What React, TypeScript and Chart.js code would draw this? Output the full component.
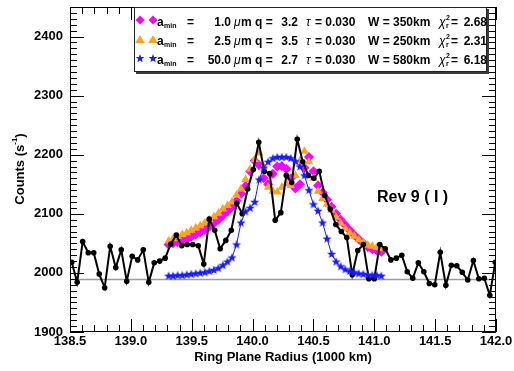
import React, { useEffect, useRef } from "react";
import { Chart, registerables } from "chart.js";

Chart.register(...registerables);

const FONT = '"Liberation Sans", Arial, Helvetica, sans-serif';

// Observed data (Ring plane radius in 1000 km, counts per second)
const radiusData = [
  138.514, 138.559, 138.604, 138.650, 138.695, 138.740, 138.785, 138.830, 138.876, 138.921,
  138.966, 139.011, 139.056, 139.102, 139.147, 139.192, 139.237, 139.282, 139.328, 139.373,
  139.418, 139.463, 139.508, 139.554, 139.599, 139.644, 139.689, 139.734, 139.780, 139.825,
  139.870, 139.915, 139.960, 140.006, 140.051, 140.096, 140.141, 140.186, 140.232, 140.277,
  140.322, 140.367, 140.412, 140.458, 140.503, 140.548, 140.593, 140.638, 140.684, 140.729,
  140.774, 140.819, 140.864, 140.910, 140.955, 141.000, 141.045, 141.090, 141.136, 141.181,
  141.226, 141.271, 141.316, 141.362, 141.407, 141.452, 141.497, 141.542, 141.588, 141.633,
  141.678, 141.723, 141.768, 141.814, 141.859, 141.904, 141.949, 141.994,
];
const countsData = [
  2018, 1984, 2053, 2034, 2034, 1998, 1975, 2045, 2009, 2039,
  1986, 2028, 2022, 2039, 1984, 2017, 2020, 2025, 2049, 2064,
  2046, 2048, 2048, 2046, 2015, 2091, 2072, 2041, 2055, 2072,
  2118, 2100, 2142, 2175, 2221, 2172, 2168, 2089, 2102, 2165,
  2153, 2226, 2188, 2165, 2160, 2172, 2131, 2108, 2082, 2070,
  2060, 1997, 2038, 2048, 1990, 1990, 2048, 2041, 2022, 2025,
  2030, 2002, 1991, 2017, 2002, 1982, 1980, 2035, 1979, 2013,
  2012, 2001, 1988, 2021, 1990, 1991, 1962, 2018,
];

// Model curves
const modelRadius = [
  139.310, 139.347, 139.384, 139.422, 139.459, 139.496, 139.533, 139.570, 139.608, 139.645,
  139.682, 139.719, 139.756, 139.794, 139.831, 139.868, 139.905, 139.942, 139.980, 140.017,
  140.054, 140.091, 140.128, 140.166, 140.203, 140.240, 140.277, 140.314, 140.352, 140.389,
  140.426, 140.463, 140.500, 140.538, 140.575, 140.612, 140.649, 140.686, 140.724, 140.761,
  140.798, 140.835, 140.872, 140.910, 140.947, 140.984, 141.021, 141.058,
];
const modelA1 = [
  2048, 2050, 2052, 2054, 2057, 2061, 2065, 2069, 2073, 2078,
  2084, 2090, 2097, 2104, 2112, 2122, 2134, 2147, 2172, 2190,
  2182, 2160, 2150, 2168, 2180, 2181, 2176, 2160, 2143, 2150,
  2178, 2196, 2172, 2148, 2136, 2124, 2112, 2100, 2090, 2081,
  2072, 2064, 2057, 2050, 2044, 2040, 2038, 2036,
];
const modelA25 = [
  2054, 2058, 2062, 2065, 2068, 2072, 2076, 2080, 2085, 2090,
  2095, 2101, 2108, 2114, 2120, 2132, 2142, 2158, 2176, 2192,
  2203, 2180, 2145, 2138, 2137, 2145, 2151, 2148, 2165, 2190,
  2206, 2188, 2160, 2138, 2126, 2116, 2106, 2094, 2084, 2075,
  2068, 2062, 2056, 2051, 2047, 2045, 2043, 2041,
];
const modelA50 = [
  1995, 1995, 1996, 1996, 1997, 1998, 1999, 2000, 2001, 2003,
  2005, 2008, 2013, 2019, 2026, 2048, 2085, 2104, 2110, 2120,
  2158, 2178, 2188, 2194, 2196, 2196, 2196, 2194, 2189, 2180,
  2165, 2140, 2116, 2105, 2085, 2058, 2032, 2019, 2011, 2006,
  2003, 2001, 1999, 1998, 1997, 1996, 1996, 1995,
];

const baselineCounts = 1989;

const xTickValues = [138.5, 139.0, 139.5, 140.0, 140.5, 141.0, 141.5, 142.0];
const yTickValues = [1900, 2000, 2100, 2200, 2300, 2400];

const legendAmin = ["1.0", "2.5", "50.0"];
const legendQ = ["3.2", "3.5", "2.7"];
const legendTau = ["0.030", "0.030", "0.030"];
const legendW = ["350km", "250km", "580km"];
const legendChi = ["2.68", "2.31", "6.18"];

const MAGENTA = "#ff00ff";
const ORANGE = "#ffa31a";
const BLUE = "#1a1aff";

function starPath(ctx: CanvasRenderingContext2D, cx: number, cy: number, ro: number, ri: number) {
  ctx.beginPath();
  for (let k = 0; k < 10; k++) {
    const r = k % 2 === 0 ? ro : ri;
    const a = -Math.PI / 2 + (k * Math.PI) / 5;
    const px = cx + r * Math.cos(a);
    const py = cy + r * Math.sin(a);
    if (k === 0) ctx.moveTo(px, py);
    else ctx.lineTo(px, py);
  }
  ctx.closePath();
}

function makeStar(): HTMLCanvasElement {
  const c = document.createElement("canvas");
  c.width = 10;
  c.height = 10;
  const g = c.getContext("2d")!;
  g.fillStyle = BLUE;
  starPath(g, 5, 5.3, 4.7, 2.0);
  g.fill();
  return c;
}

function drawDiamond(ctx: CanvasRenderingContext2D, x: number, y: number, r: number) {
  ctx.beginPath();
  ctx.moveTo(x, y - r);
  ctx.lineTo(x + r, y);
  ctx.lineTo(x, y + r);
  ctx.lineTo(x - r, y);
  ctx.closePath();
  ctx.fillStyle = MAGENTA;
  ctx.fill();
}
function drawTriangle(ctx: CanvasRenderingContext2D, x: number, y: number, r: number) {
  ctx.beginPath();
  ctx.moveTo(x, y - r);
  ctx.lineTo(x + r * 0.95, y + r * 0.6);
  ctx.lineTo(x - r * 0.95, y + r * 0.6);
  ctx.closePath();
  ctx.fillStyle = ORANGE;
  ctx.fill();
}
function drawStarMarker(ctx: CanvasRenderingContext2D, x: number, y: number, r: number) {
  starPath(ctx, x, y, r, r * 0.42);
  ctx.fillStyle = BLUE;
  ctx.fill();
}

const overlayPlugin = {
  id: "overlay",
  beforeDatasetsDraw(chart: any) {
    const { ctx, chartArea: a, scales } = chart;
    const yb = scales.y.getPixelForValue(baselineCounts);
    ctx.save();
    ctx.strokeStyle = "#9c9c9c";
    ctx.lineWidth = 1.5;
    ctx.beginPath();
    ctx.moveTo(a.left, yb);
    ctx.lineTo(a.right, yb);
    ctx.stroke();
    ctx.restore();
  },
  afterDraw(chart: any) {
    const { ctx, chartArea: a, scales } = chart;
    const xs = scales.x;
    const ys = scales.y;
    ctx.save();
    // frame
    ctx.strokeStyle = "#000";
    ctx.lineWidth = 1;
    ctx.strokeRect(a.left + 0.5, a.top + 0.5, a.right - a.left - 1, a.bottom - a.top - 1);
    // inward ticks
    ctx.beginPath();
    for (let k = 0; k <= 35; k++) {
      const v = 138.5 + k * 0.1;
      const px = Math.round(xs.getPixelForValue(v)) + 0.5;
      const len = k % 5 === 0 ? 13 : 7;
      ctx.moveTo(px, a.bottom);
      ctx.lineTo(px, a.bottom - len);
      ctx.moveTo(px, a.top);
      ctx.lineTo(px, a.top + len);
    }
    for (let k = 0; k <= 55; k++) {
      const v = 1900 + k * 10;
      const py = Math.round(ys.getPixelForValue(v)) + 0.5;
      const len = k % 10 === 0 ? 14 : 7;
      ctx.moveTo(a.left, py);
      ctx.lineTo(a.left + len, py);
      ctx.moveTo(a.right, py);
      ctx.lineTo(a.right - len, py);
    }
    ctx.stroke();

    // annotation
    ctx.fillStyle = "#000";
    ctx.font = `bold 16px ${FONT}`;
    ctx.textBaseline = "middle";
    ctx.textAlign = "left";
    ctx.fillText("Rev 9 ( I )", 377, 198);

    // x title
    ctx.font = `bold 13px ${FONT}`;
    ctx.textAlign = "center";
    ctx.fillText("Ring Plane Radius (1000 km)", (a.left + a.right) / 2, 357);

    // y title (rotated)
    ctx.save();
    ctx.translate(20, 169);
    ctx.rotate(-Math.PI / 2);
    ctx.textAlign = "left";
    const f1 = `bold 13px ${FONT}`;
    const f2 = `bold 8px ${FONT}`;
    ctx.font = f1;
    const w1 = ctx.measureText("Counts (s").width;
    const w3 = ctx.measureText(")").width;
    ctx.font = f2;
    const w2 = ctx.measureText("-1").width;
    let sx = -(w1 + w2 + w3) / 2;
    ctx.font = f1;
    ctx.fillText("Counts (s", sx, 0);
    sx += w1;
    ctx.font = f2;
    ctx.fillText("-1", sx, -5);
    sx += w2;
    ctx.font = f1;
    ctx.fillText(")", sx, 0);
    ctx.restore();

    // legend box
    const L = 134, T = 7, R = 487, B = 72;
    ctx.fillStyle = "#3a3a3a";
    ctx.fillRect(L + 2, T + 2, R - L, B - T);
    ctx.fillStyle = "#fff";
    ctx.fillRect(L, T, R - L, B - T);
    ctx.strokeStyle = "#222";
    ctx.lineWidth = 1;
    ctx.strokeRect(L + 0.5, T + 0.5, R - L - 1, B - T - 1);

    const rowY = [21, 40, 59];
    const bold = `bold 12px ${FONT}`;
    const ital = `italic 12px ${FONT}`;
    const small = `bold 7px ${FONT}`;
    ctx.textBaseline = "alphabetic";
    for (let r = 0; r < 3; r++) {
      const y = rowY[r];
      const bl = y + 4.5;
      for (const mx of [140, 153]) {
        if (r === 0) drawDiamond(ctx, mx, y - 1, 4.5);
        else if (r === 1) drawTriangle(ctx, mx, y, 5);
        else drawStarMarker(ctx, mx, y - 0.5, 4.5);
      }
      ctx.fillStyle = "#000";
      ctx.textAlign = "left";
      ctx.font = bold;
      ctx.fillText("a", 157, bl);
      ctx.font = small;
      ctx.fillText("min", 164, bl + 2);
      ctx.font = bold;
      ctx.fillText("=", 187, bl);
      ctx.textAlign = "right";
      ctx.fillText(legendAmin[r], 231, bl);
      ctx.textAlign = "left";
      ctx.font = ital;
      ctx.fillText("\u03bc", 234, bl);
      ctx.font = bold;
      ctx.fillText("m q =", 241, bl);
      ctx.textAlign = "right";
      ctx.fillText(legendQ[r], 298, bl);
      ctx.textAlign = "left";
      ctx.font = ital;
      ctx.fillText("\u03c4", 306, bl);
      ctx.font = bold;
      ctx.fillText("= " + legendTau[r], 315, bl);
      ctx.fillText("W = " + legendW[r], 368, bl);
      ctx.font = ital;
      ctx.fillText("\u03c7", 439, bl);
      ctx.font = small;
      ctx.fillText("2", 446, bl - 6);
      ctx.fillText("r", 446, bl + 2);
      ctx.font = bold;
      ctx.fillText("=", 451, bl);
      ctx.textAlign = "right";
      ctx.fillText(legendChi[r], 487, bl);
    }
    ctx.restore();
  },
};

export default function App() {
  const canvasRef = useRef<HTMLCanvasElement | null>(null);

  useEffect(() => {
    const canvas = canvasRef.current;
    if (!canvas) return;
    const star = makeStar();
    const toPts = (xs: number[], ys: number[]) => xs.map((x, i) => ({ x, y: ys[i] }));
    const tickFont = { family: FONT, size: 13, weight: "bold" as const };

    const chart = new Chart(canvas, {
      type: "scatter",
      data: {
        datasets: [
          {
            label: "a_min = 50.0",
            data: toPts(modelRadius, modelA50),
            showLine: true,
            borderColor: BLUE,
            borderWidth: 1,
            pointStyle: star as any,
            pointRadius: 4,
            order: 0,
          },
          {
            label: "data",
            data: toPts(radiusData, countsData),
            showLine: true,
            borderColor: "#000",
            borderWidth: 2,
            pointBackgroundColor: "#000",
            pointBorderColor: "#000",
            pointBorderWidth: 0,
            pointRadius: 2.8,
            order: 1,
          },
          {
            label: "a_min = 2.5",
            data: toPts(modelRadius, modelA25),
            showLine: false,
            borderColor: ORANGE,
            backgroundColor: ORANGE,
            pointStyle: "triangle",
            pointBorderWidth: 0,
            pointRadius: 5,
            order: 2,
          },
          {
            label: "a_min = 1.0",
            data: toPts(modelRadius, modelA1),
            showLine: false,
            borderColor: MAGENTA,
            backgroundColor: MAGENTA,
            pointStyle: "rectRot",
            pointBorderWidth: 0,
            pointRadius: 5,
            order: 3,
          },
        ],
      },
      options: {
        animation: false,
        responsive: false,
        devicePixelRatio: 1,
        layout: { padding: { top: 7, right: 18, left: 0, bottom: 0 } },
        plugins: { legend: { display: false }, tooltip: { enabled: false } },
        events: [],
        scales: {
          x: {
            type: "linear",
            min: 138.5,
            max: 142.0,
            afterFit: (s: any) => {
              s.height = 39;
              s.paddingLeft = 0;
              s.paddingRight = 0;
            },
            afterBuildTicks: (s: any) => {
              s.ticks = xTickValues.map((v) => ({ value: v }));
            },
            ticks: {
              font: tickFont,
              color: "#000",
              padding: 2,
              maxRotation: 0,
              autoSkip: false,
              callback: (v: any) => Number(v).toFixed(1),
            },
            grid: { display: false, drawTicks: false },
            border: { display: false },
          },
          y: {
            type: "linear",
            min: 1900,
            max: 2450,
            afterFit: (s: any) => {
              s.width = 70;
              s.paddingTop = 0;
              s.paddingBottom = 0;
            },
            afterBuildTicks: (s: any) => {
              s.ticks = yTickValues.map((v) => ({ value: v }));
            },
            ticks: {
              font: tickFont,
              color: "#000",
              padding: 7,
              autoSkip: false,
              callback: (v: any) => String(v),
            },
            grid: { display: false, drawTicks: false },
            border: { display: false },
          },
        },
      },
      plugins: [overlayPlugin],
    });
    return () => chart.destroy();
  }, []);

  return (
    <div style={{ position: "fixed", left: 0, top: 0, width: 514, height: 371, background: "#fff" }}>
      <canvas ref={canvasRef} width={514} height={371} style={{ width: 514, height: 371 }} />
    </div>
  );
}
